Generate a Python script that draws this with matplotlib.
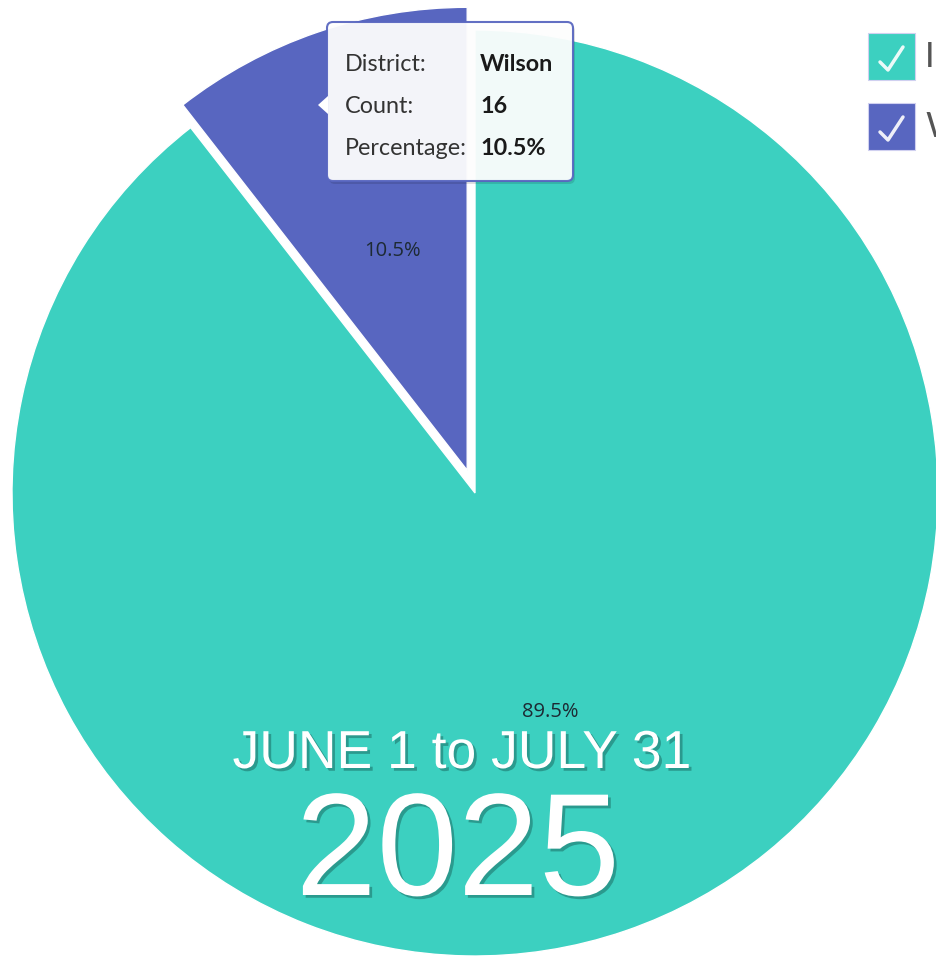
import numpy as np
import matplotlib
matplotlib.use("Agg")
import matplotlib.pyplot as plt
import matplotlib.patheffects as pe
from matplotlib.patches import FancyBboxPatch, Rectangle, Polygon

# data
districts = ['Independence', 'Wilson']
counts = [136, 16]
colors = ['#3CD0C0', '#5866C0']
hovered = 'Wilson'
date_range = 'JUNE 1 to JULY 31'
year = '2025'

total = sum(counts)
pcts = [c / total * 100 for c in counts]
explode = [24 if d == hovered else 0 for d in districts]  # pie explode is in data units here
start = 90 + 360 * counts[districts.index(hovered)] / total

fig = plt.figure(figsize=(9.36, 9.56), dpi=100)
ax = fig.add_axes([0, 0, 1, 1])

wedges, texts, autotexts = ax.pie(
    counts, colors=colors, explode=explode, startangle=start,
    counterclock=True, center=(475, 463), radius=463,
    autopct='%1.1f%%', pctdistance=0.5,
    wedgeprops=dict(edgecolor='white', linewidth=1),
    textprops=dict(fontsize=14.5, color='#1d2a33', family='Open Sans'))

ax.set_xlim(0, 936)
ax.set_ylim(0, 956)
ax.set_aspect('equal')
ax.axis('off')

# date overlay
shadow = [pe.withSimplePatchShadow(offset=(2, -2), shadow_rgbFace='#1c6e66', alpha=0.55)]
ax.text(462, 188, date_range, ha='center', va='baseline', fontsize=38.5,
        color='white', family='Liberation Sans', path_effects=shadow)
ax.text(458, 61, year, ha='center', va='baseline', fontsize=105,
        color='white', family='Liberation Sans', path_effects=shadow)

# tooltip for hovered slice
i = districts.index(hovered)
tx0, tx1, ty0, ty1 = 327, 573, 956 - 181, 956 - 22
ax.add_patch(FancyBboxPatch((tx0 + 2, ty0 - 3), tx1 - tx0, ty1 - ty0,
                            boxstyle='round,pad=0,rounding_size=6',
                            facecolor='black', alpha=0.12, edgecolor='none', zorder=5))
ax.add_patch(FancyBboxPatch((tx0, ty0), tx1 - tx0, ty1 - ty0,
                            boxstyle='round,pad=0,rounding_size=6',
                            facecolor='white', alpha=0.94, edgecolor=colors[i],
                            linewidth=1.5, zorder=6))
ax.add_patch(Polygon([(318, 956 - 105), (328, 956 - 96), (328, 956 - 114)],
                     closed=True, facecolor='white', edgecolor='none', zorder=7))
rows = [('District:', districts[i]), ('Count:', str(counts[i])),
        ('Percentage:', '%.1f%%' % pcts[i])]
for k, (lab, val) in enumerate(rows):
    y = 956 - 64 - 42 * k
    ax.text(345, y, lab, ha='left', va='center', fontsize=16.8, color='#333333',
            family='Lato', zorder=8)
    ax.text(480, y, val, ha='left', va='center', fontsize=16.8, color='#1a1a1a',
            family='Lato', fontweight='bold', zorder=8)

# legend (cut off at the right edge, like the reference)
for k, (d, c) in enumerate(zip(districts, colors)):
    y0 = 956 - 80 - 70 * k
    ax.add_patch(Rectangle((868, y0), 47, 47, facecolor=c, edgecolor='#d0d0f0',
                           linewidth=0.8, zorder=5))
    ax.plot([880, 888, 903], [y0 + 18, y0 + 10, y0 + 33], color='white',
            lw=2.5, alpha=0.9, solid_capstyle='round', zorder=6)
    ax.text(925, y0 + 23, d, ha='left', va='center', fontsize=25,
            color='#555555', family='Lato', zorder=6)

fig.savefig('out.png', dpi=100)
